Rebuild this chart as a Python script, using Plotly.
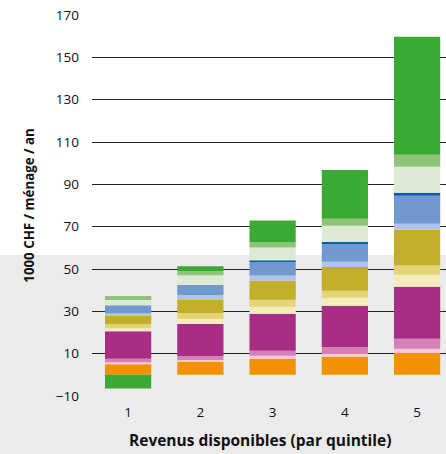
import plotly.graph_objects as go

quintiles = [1, 2, 3, 4, 5]
tick_vals = [-10, 10, 30, 50, 70, 90, 110, 130, 150, 170]

orange = [5.0, 6.1, 7.6, 8.5, 10.4]
light_pink = [1.0, 0.9, 1.4, 1.4, 1.9]
pink = [1.6, 1.9, 2.4, 3.3, 4.7]
purple = [13.0, 15.1, 17.5, 19.4, 24.6]
cream = [1.4, 2.4, 3.3, 3.8, 5.7]
yellow = [1.9, 2.8, 3.3, 3.3, 4.3]
mustard = [4.3, 6.1, 9.0, 11.3, 17.0]
light_blue = [0.9, 2.4, 2.4, 2.4, 2.8]
blue = [3.8, 4.7, 6.6, 8.5, 13.2]
dark_blue = [0.0, 0.0, 0.5, 0.9, 1.4]
pale_green = [2.4, 4.7, 6.1, 7.6, 12.3]
mid_green = [1.9, 2.0, 2.4, 3.3, 5.7]
green = [-6.5, 2.2, 10.4, 23.1, 55.7]

series = [
    ("s1", orange, "#F39200"),
    ("s2", light_pink, "#F5C8DE"),
    ("s3", pink, "#D681B5"),
    ("s4", purple, "#A92C86"),
    ("s5", cream, "#F4ECBB"),
    ("s6", yellow, "#E3D477"),
    ("s7", mustard, "#C2AE27"),
    ("s8", light_blue, "#B1C3E7"),
    ("s9", blue, "#7298D0"),
    ("s10", dark_blue, "#005EAA"),
    ("s11", pale_green, "#DEEAD3"),
    ("s12", mid_green, "#8EC479"),
    ("s13", green, "#3AAA35"),
]

fig = go.Figure()
for name, vals, col in series:
    fig.add_trace(go.Bar(x=quintiles, y=vals, name=name, marker_color=col,
                         marker_line_width=0, width=0.64, showlegend=False))

fig.add_shape(type="rect", xref="paper", yref="paper",
              x0=-0.3, x1=1.0, y0=-0.2, y1=0.370,
              fillcolor="#EBEBEB", line_width=0, layer="below")

font = "Open Sans, Noto Sans, sans-serif"
fig.add_annotation(text="<b>Revenus disponibles (par quintile)</b>",
                   xref="paper", yref="paper", x=(260 - 92) / 354,
                   y=-(440 - 396) / 381, xanchor="center", yanchor="middle",
                   showarrow=False, font=dict(size=15.5, color="#111"))

fig.update_layout(
    width=446, height=454,
    margin=dict(l=92, r=0, t=15, b=58),
    barmode="relative",
    paper_bgcolor="white",
    plot_bgcolor="rgba(0,0,0,0)",
    font=dict(family=font, size=13.5, color="#111"),
    xaxis=dict(range=[0.5, 5.4], tickvals=quintiles, showgrid=False,
               zeroline=False, ticks="", showline=False,
               ticklabelstandoff=6),
    yaxis=dict(range=[-10, 170], tickvals=tick_vals, showgrid=True,
               gridcolor="#222", gridwidth=1.4, zeroline=False,
               ticks="", ticklabelstandoff=12, showline=False,
               title=dict(text="<b>1000 CHF / ménage / an</b>",
                          font=dict(size=13.3), standoff=18)),
)

fig.write_html("out.html")
